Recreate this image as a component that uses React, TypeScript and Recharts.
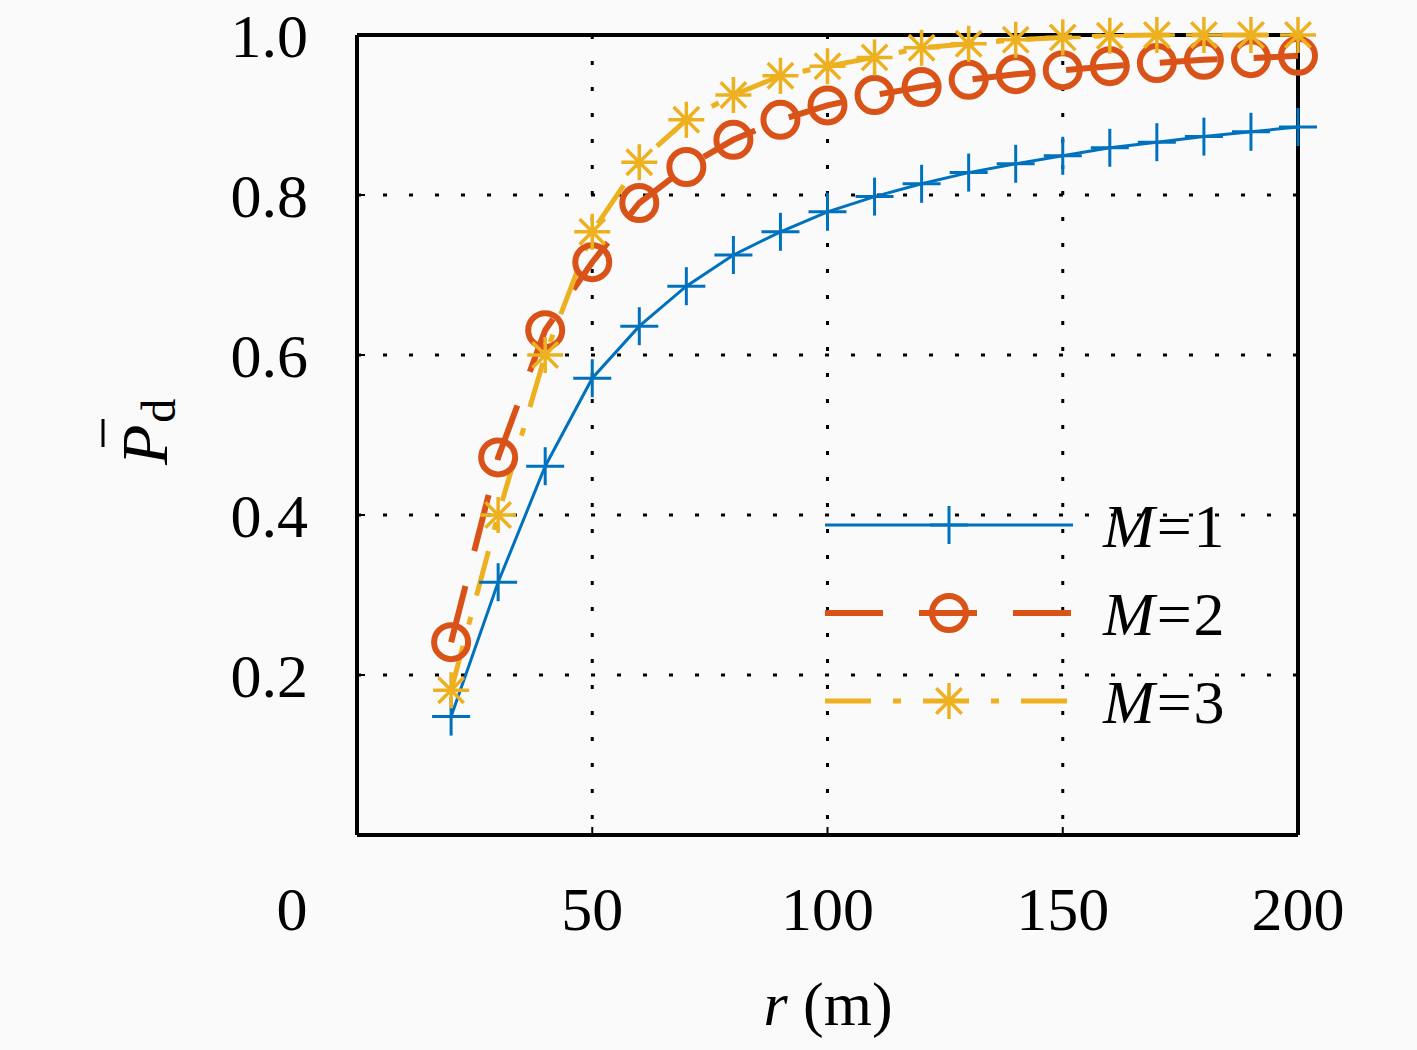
import React from 'react';
import { LineChart, Line, XAxis, YAxis, CartesianGrid, ReferenceLine } from 'recharts';

const distances = [20, 30, 40, 50, 60, 70, 80, 90, 100, 110, 120, 130, 140, 150, 160, 170, 180, 190, 200];
const pdM1 = [0.148, 0.316, 0.461, 0.571, 0.636, 0.686, 0.725, 0.754, 0.779, 0.798, 0.814, 0.828, 0.839, 0.849, 0.859, 0.866, 0.873, 0.879, 0.885];
const pdM2 = [0.241, 0.472, 0.631, 0.716, 0.79, 0.835, 0.869, 0.894, 0.912, 0.925, 0.935, 0.944, 0.951, 0.956, 0.961, 0.965, 0.969, 0.971, 0.974];
const pdM3 = [0.181, 0.4, 0.6, 0.754, 0.841, 0.894, 0.925, 0.949, 0.961, 0.972, 0.984, 0.989, 0.994, 0.997, 0.999, 1.0, 1.0, 1.0, 1.0];
const xTicks = [0, 50, 100, 150, 200];
const yTicks = [0.2, 0.4, 0.6, 0.8, 1.0];
const seriesNames = ['M=1', 'M=2', 'M=3'];

const data = distances.map((r, i) => ({ r, m1: pdM1[i], m2: pdM2[i], m3: pdM3[i] }));

const FONT = '"Liberation Serif", "DejaVu Serif", serif';
const BLUE = '#0072BD';
const RED = '#D95319';
const YELLOW = '#EDB120';

const series = [
  { key: 'm1', name: seriesNames[0], color: BLUE, width: 3, dash: undefined as string | undefined, marker: 'plus' },
  { key: 'm2', name: seriesNames[1], color: RED, width: 6, dash: '58 36', marker: 'circle' },
  { key: 'm3', name: seriesNames[2], color: YELLOW, width: 5, dash: '46 22 8 22', marker: 'star' },
];

function Marker({ kind, cx, cy, color }: { kind: string; cx: number; cy: number; color: string }) {
  if (kind === 'plus') {
    const s = 19;
    return (
      <g stroke={color} strokeWidth={3}>
        <line x1={cx - s} y1={cy} x2={cx + s} y2={cy} />
        <line x1={cx} y1={cy - s} x2={cx} y2={cy + s} />
      </g>
    );
  }
  if (kind === 'circle') {
    return <circle cx={cx} cy={cy} r={17} fill="none" stroke={color} strokeWidth={6} />;
  }
  const s = 18;
  const d = s * 0.707;
  return (
    <g stroke={color} strokeWidth={3.5}>
      <line x1={cx - s} y1={cy} x2={cx + s} y2={cy} />
      <line x1={cx} y1={cy - s} x2={cx} y2={cy + s} />
      <line x1={cx - d} y1={cy - d} x2={cx + d} y2={cy + d} />
      <line x1={cx - d} y1={cy + d} x2={cx + d} y2={cy - d} />
    </g>
  );
}

const makeDot = (kind: string, color: string) => (props: any) => {
  const { cx, cy, index } = props;
  if (cx == null || cy == null) return <g key={`d-${kind}-${index}`} />;
  return <Marker key={`d-${kind}-${index}`} kind={kind} cx={cx} cy={cy} color={color} />;
};

// tick labels: ticks point inward (tickSize -8), so labels are placed from the axis itself
const XTick = (props: any) => {
  const { x, y, payload } = props;
  const shift = payload.value === 0 ? -65 : 0;
  return (
    <text x={x + shift} y={y + 103} textAnchor="middle" fontFamily={FONT} fontSize={62} fill="#000">
      {payload.value}
    </text>
  );
};

const YTick = (props: any) => {
  const { x, y, payload } = props;
  return (
    <text x={x - 57} y={y + 22} textAnchor="end" fontFamily={FONT} fontSize={62} fill="#000">
      {payload.value.toFixed(1)}
    </text>
  );
};

const YLabel = () => {
  const cx = 167;
  const cy = 441;
  return (
    <g transform={`rotate(-90, ${cx}, ${cy})`}>
      <text x={cx - 24} y={cy} fontFamily={FONT} fontSize={66} fontStyle="italic" fill="#000">
        P
        <tspan fontStyle="normal" fontSize={48} dx={2} dy={8}>d</tspan>
      </text>
      <line x1={cx - 6} y1={cy - 64} x2={cx + 22} y2={cy - 64} stroke="#000" strokeWidth={3} />
    </g>
  );
};

const XLabel = () => (
  <text x={828} y={1025} textAnchor="middle" fontFamily={FONT} fontSize={62} fill="#000">
    <tspan fontStyle="italic">r</tspan> (m)
  </text>
);

const LegendBox = () => (
  <svg width={460} height={270} style={{ position: 'absolute', left: 815, top: 480 }}>
    {series.map((s, i) => {
      const y = 45 + i * 88;
      return (
        <g key={s.key}>
          <line x1={10} y1={y} x2={258} y2={y} stroke={s.color} strokeWidth={s.width} strokeDasharray={s.dash} />
          <Marker kind={s.marker} cx={134} cy={y} color={s.color} />
          <text x={288} y={y + 22} fontFamily={FONT} fontSize={62} fill="#000" letterSpacing={2}>
            <tspan fontStyle="italic">M</tspan>
            {s.name.slice(1)}
          </text>
        </g>
      );
    })}
  </svg>
);

export default function App() {
  return (
    <div style={{ position: 'absolute', left: 0, top: 0, width: 1417, height: 1050, background: '#fafafa' }}>
      <LineChart width={1417} height={1050} data={data} margin={{ top: 35, right: 119, bottom: 0, left: 0 }}>
        <CartesianGrid stroke="#000" strokeWidth={3} strokeDasharray="4 22" verticalValues={[50, 100, 150]} horizontalValues={[0.2, 0.4, 0.6, 0.8]} />
        <XAxis
          dataKey="r"
          type="number"
          domain={[0, 200]}
          ticks={xTicks}
          tick={<XTick />}
          tickSize={-8}
          tickMargin={0}
          tickLine={{ stroke: '#000', strokeWidth: 2 }}
          axisLine={{ stroke: '#000', strokeWidth: 4 }}
          height={215}
          label={{ value: 'r (m)', content: () => <XLabel /> }}
        />
        <YAxis
          type="number"
          domain={[0, 1]}
          ticks={yTicks}
          tick={<YTick />}
          tickSize={-8}
          tickMargin={0}
          tickLine={{ stroke: '#000', strokeWidth: 2 }}
          axisLine={{ stroke: '#000', strokeWidth: 4 }}
          width={357}
          label={{ value: 'Pd', content: () => <YLabel /> }}
        />
        <ReferenceLine y={1} stroke="#000" strokeWidth={4} />
        <ReferenceLine x={200} stroke="#000" strokeWidth={4} />
        {series.map((s) => (
          <Line
            key={s.key}
            dataKey={s.key}
            name={s.name}
            type="linear"
            stroke={s.color}
            strokeWidth={s.width}
            strokeDasharray={s.dash}
            dot={makeDot(s.marker, s.color)}
            activeDot={false}
            isAnimationActive={false}
          />
        ))}
      </LineChart>
      <LegendBox />
    </div>
  );
}
